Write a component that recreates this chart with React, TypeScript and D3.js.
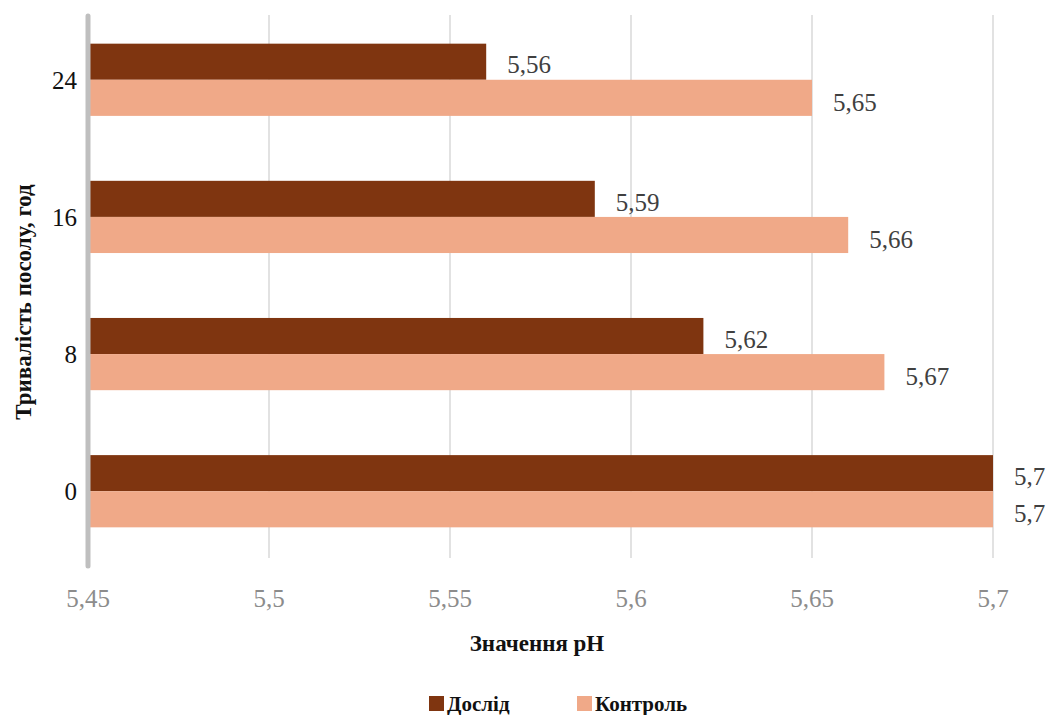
import React from "react";
import * as d3 from "d3";

const categories = ["24", "16", "8", "0"];
const seriesNames = ["Дослід", "Контроль"];
const doslid = [5.56, 5.59, 5.62, 5.7];
const kontrol = [5.65, 5.66, 5.67, 5.7];
const xTicks = [5.45, 5.5, 5.55, 5.6, 5.65, 5.7];
const colors = ["#7f3510", "#f0a988"];

const W = 1051;
const H = 715;
const left = 88;
const right = 993;
const top = 11;
const bottom = 560;

const fmt = (v: number) => String(v).replace(".", ",");
const serif = '"Liberation Serif", "DejaVu Serif", serif';

export default function App() {
  const x = d3.scaleLinear().domain([5.45, 5.7]).range([left, right]);
  const y = d3.scaleBand().domain(categories).range([top, bottom]).paddingInner(65 / 137.3).paddingOuter(32.7 / 137.3);
  const inner = d3.scaleBand().domain(seriesNames).range([0, y.bandwidth()]);
  const series = [doslid, kontrol];

  return (
    <svg width={W} height={H} style={{ position: "absolute", left: 0, top: 0, background: "#fff" }}>
      <g style={{ fontFamily: serif }}>
        {xTicks.slice(1).map((t) => (
          <line key={t} x1={x(t)} x2={x(t)} y1={15} y2={558} stroke="#d9d9d9" strokeWidth={1.5} />
        ))}
        {categories.map((c, i) => (
          <g key={c}>
            {series.map((s, j) => {
              const yy = (y(c) as number) + (inner(seriesNames[j]) as number);
              const h = inner.bandwidth();
              return (
                <g key={j}>
                  <rect x={x(5.45)} y={yy} width={x(s[i]) - x(5.45)} height={h} fill={colors[j]} />
                  <text x={x(s[i]) + 21} y={yy + h / 2 + (j === 0 ? 3 : 4)} dy="0.35em" fontSize={25} fill="#404040">
                    {fmt(s[i])}
                  </text>
                </g>
              );
            })}
            <text x={77} y={(y(c) as number) + y.bandwidth() / 2} dy="0.35em" textAnchor="end" fontSize={25} fill="#111">
              {c}
            </text>
          </g>
        ))}
        <line x1={left} x2={left} y1={16} y2={566} stroke="#bfbfbf" strokeWidth={5} strokeLinecap="round" />
        {xTicks.map((t) => (
          <text key={t} x={x(t)} y={598} dy="0.35em" textAnchor="middle" fontSize={25} fill="#8c8c8c">
            {fmt(t)}
          </text>
        ))}
        <text x={537} y={643} dy="0.35em" textAnchor="middle" fontSize={23} fontWeight="bold" fill="#111">
          Значення pH
        </text>
        <text transform="translate(23,302) rotate(-90)" dy="0.35em" textAnchor="middle" fontSize={23} fontWeight="bold" fill="#111">
          Тривалість посолу, год
        </text>
        {seriesNames.map((n, j) => {
          const lx = j === 0 ? 429 : 577;
          return (
            <g key={n}>
              <rect x={lx} y={696} width={15} height={15} fill={colors[j]} />
              <text x={lx + 18} y={704} dy="0.35em" fontSize={21} fontWeight="bold" fill="#111">
                {n}
              </text>
            </g>
          );
        })}
      </g>
    </svg>
  );
}
